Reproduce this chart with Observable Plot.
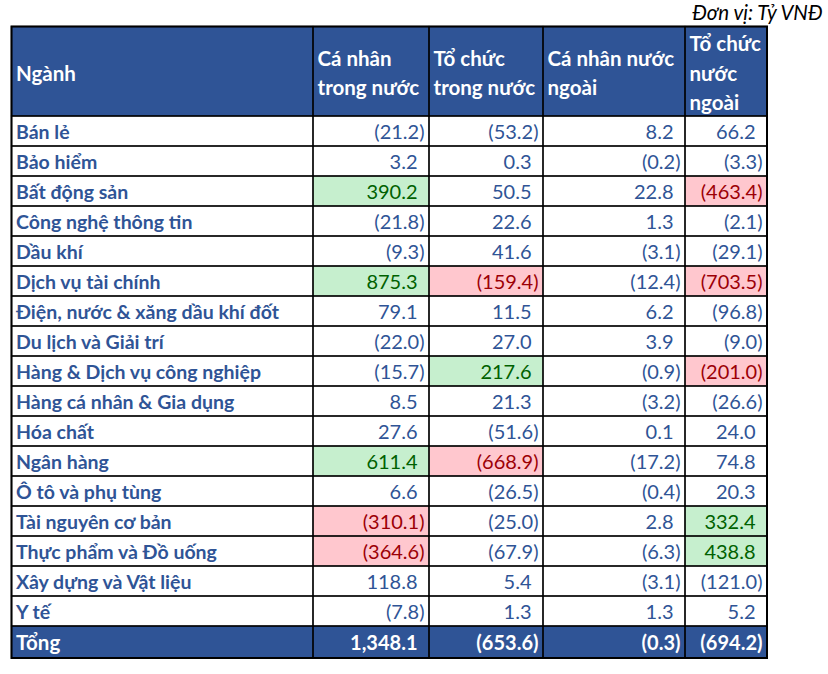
<!DOCTYPE html>
<html>
<head>
<meta charset="utf-8">
<script src="https://cdn.jsdelivr.net/npm/d3@7"></script>
<script src="https://cdn.jsdelivr.net/npm/@observablehq/plot@0.6"></script>
<style>
  html, body { margin: 0; padding: 0; background: #fff; }
  #chart svg { display: block; }
</style>
</head>
<body>
<div id="chart"></div>
<script>
// ---------- DATA ----------
const unitLabel = "Đơn vị: Tỷ VNĐ";
const firstHeader = "Ngành";
const columnHeaders = ["Cá nhân\ntrong nước", "Tổ chức\ntrong nước", "Cá nhân nước\nngoài", "Tổ chức\nnước\nngoài"];
const sectors = [
  "Bán lẻ", "Bảo hiểm", "Bất động sản", "Công nghệ thông tin", "Dầu khí",
  "Dịch vụ tài chính", "Điện, nước & xăng dầu khí đốt", "Du lịch và Giải trí",
  "Hàng & Dịch vụ công nghiệp", "Hàng cá nhân & Gia dụng", "Hóa chất",
  "Ngân hàng", "Ô tô và phụ tùng", "Tài nguyên cơ bản", "Thực phẩm và Đồ uống",
  "Xây dựng và Vật liệu", "Y tế"
];
const caNhanTrongNuoc  = [-21.2, 3.2, 390.2, -21.8, -9.3, 875.3, 79.1, -22.0, -15.7, 8.5, 27.6, 611.4, 6.6, -310.1, -364.6, 118.8, -7.8];
const toChucTrongNuoc  = [-53.2, 0.3, 50.5, 22.6, 41.6, -159.4, 11.5, 27.0, 217.6, 21.3, -51.6, -668.9, -26.5, -25.0, -67.9, 5.4, 1.3];
const caNhanNuocNgoai  = [8.2, -0.2, 22.8, 1.3, -3.1, -12.4, 6.2, 3.9, -0.9, -3.2, 0.1, -17.2, -0.4, 2.8, -6.3, -3.1, 1.3];
const toChucNuocNgoai  = [66.2, -3.3, -463.4, -2.1, -29.1, -703.5, -96.8, -9.0, -201.0, -26.6, 24.0, 74.8, 20.3, 332.4, 438.8, -121.0, 5.2];
const totalLabel = "Tổng";
const totals = [1348.1, -653.6, -0.3, -694.2];

// ---------- LAYOUT (positions / styles) ----------
const W = 828, H = 674;
const colEdges = [11.5, 313, 429, 543, 685, 767];
const headerTop = 26.5, headerBottom = 116, rowH = 30, totalH = 32;
const blue = "#2F5496";
const textBlue = "#2F5496";
const greenFill = "#C6EFCE", greenText = "#006100";
const redFill = "#FFC7CE", redText = "#9C0006";
const FS_NAME = 19.5, FS_NUM = 20, FS_HEAD = 20.5, FS_UNIT = 20.5;
const font = "Lato, 'Open Sans', sans-serif";
const threshold = 150;

const series = [caNhanTrongNuoc, toChucTrongNuoc, caNhanNuocNgoai, toChucNuocNgoai];
const fmt = d3.format(",.1f");
const fmtVal = v => v < 0 ? `(${fmt(-v)})` : fmt(v);

// Build cell table
const bodyCells = [];
sectors.forEach((s, i) => {
  const y1 = headerBottom + i * rowH, y2 = y1 + rowH;
  bodyCells.push({kind: "name", text: s, x1: colEdges[0], x2: colEdges[1], y1, y2});
  series.forEach((arr, j) => {
    const v = arr[i];
    const hl = Math.abs(v) >= threshold ? (v > 0 ? "g" : "r") : null;
    bodyCells.push({kind: "num", v, text: fmtVal(v), hl, x1: colEdges[j + 1], x2: colEdges[j + 2], y1, y2});
  });
});
const totY1 = headerBottom + sectors.length * rowH, totY2 = totY1 + totalH;
const totalCells = [{kind: "name", text: totalLabel, x1: colEdges[0], x2: colEdges[1], y1: totY1, y2: totY2}]
  .concat(totals.map((v, j) => ({kind: "num", v, text: fmtVal(v), x1: colEdges[j + 1], x2: colEdges[j + 2], y1: totY1, y2: totY2})));
const headerCells = [{text: firstHeader, x1: colEdges[0], x2: colEdges[1]}]
  .concat(columnHeaders.map((t, j) => ({text: t, x1: colEdges[j + 1], x2: colEdges[j + 2]})))
  .map(d => ({...d, y1: headerTop, y2: headerBottom}));

const numX = d => d.v < 0 ? d.x2 - 5 : d.x2 - 12;
const midY = d => (d.y1 + d.y2) / 2 + 1;
const headY = d => (d.y1 + d.y2) / 2 - 0.5;

const chart = Plot.plot({
  width: W, height: H,
  margin: 0,
  x: {type: "identity", axis: null},
  y: {type: "identity", axis: null},
  style: {fontFamily: font, background: "#fff"},
  marks: [
    // backgrounds
    Plot.rect(headerCells, {x1: "x1", x2: "x2", y1: "y1", y2: "y2", fill: blue}),
    Plot.rect(totalCells, {x1: "x1", x2: "x2", y1: "y1", y2: "y2", fill: blue}),
    Plot.rect(bodyCells.filter(d => d.hl), {x1: "x1", x2: "x2", y1: "y1", y2: "y2", fill: d => d.hl === "g" ? greenFill : redFill}),
    // grid
    Plot.rect(headerCells.concat(bodyCells, totalCells), {x1: "x1", x2: "x2", y1: "y1", y2: "y2", fill: "none", stroke: "#000", strokeWidth: 1.2}),
    Plot.rect([{x1: colEdges[0], x2: colEdges[5], y1: headerTop, y2: totY2}], {x1: "x1", x2: "x2", y1: "y1", y2: "y2", fill: "none", stroke: "#000", strokeWidth: 2}),
    // header text
    Plot.text(headerCells, {x: d => d.x1 + 4, y: headY, text: "text", textAnchor: "start", lineAnchor: "middle", lineHeight: 29.5 / FS_HEAD, fill: "#fff", fontSize: FS_HEAD, fontWeight: "bold"}),
    // names
    Plot.text(bodyCells.filter(d => d.kind === "name"), {x: d => d.x1 + 4, y: midY, text: "text", textAnchor: "start", lineAnchor: "middle", fill: textBlue, fontSize: FS_NAME, fontWeight: "bold"}),
    // numbers
    Plot.text(bodyCells.filter(d => d.kind === "num"), {x: numX, y: midY, text: "text", textAnchor: "end", lineAnchor: "middle", fill: d => d.hl === "g" ? greenText : d.hl === "r" ? redText : textBlue, fontSize: FS_NUM}),
    // total row
    Plot.text(totalCells.filter(d => d.kind === "name"), {x: d => d.x1 + 4, y: midY, text: "text", textAnchor: "start", lineAnchor: "middle", fill: "#fff", fontSize: FS_HEAD, fontWeight: "bold"}),
    Plot.text(totalCells.filter(d => d.kind === "num"), {x: numX, y: midY, text: "text", textAnchor: "end", lineAnchor: "middle", fill: "#fff", fontSize: FS_NUM, fontWeight: "bold"}),
    // unit label
    Plot.text([unitLabel], {x: W - 6, y: 13, text: d => d, textAnchor: "end", lineAnchor: "middle", fill: "#000", fontSize: FS_UNIT, fontStyle: "italic"})
  ]
});
document.getElementById("chart").appendChild(chart);
</script>
</body>
</html>
